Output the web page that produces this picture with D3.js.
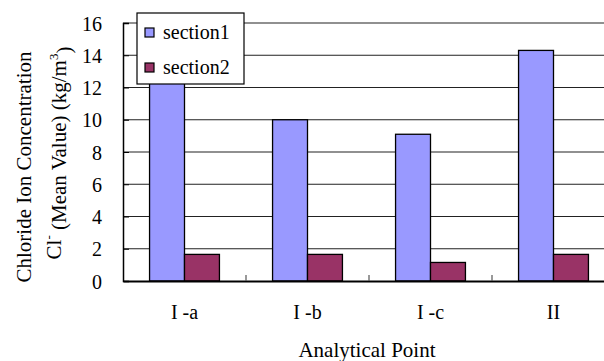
<!DOCTYPE html>
<html>
<head>
<meta charset="utf-8">
<script src="https://cdn.jsdelivr.net/npm/d3@7"></script>
<style>
body { margin: 0; background: #fff; }
</style>
</head>
<body>
<div id="container"></div>
<script>
var categories = ['I -a', 'I -b', 'I -c', 'II'];
var section1 = [12.8, 10.0, 9.1, 14.3];
var section2 = [1.65, 1.65, 1.15, 1.65];
var seriesNames = ['section1', 'section2'];
var yTicks = [0, 2, 4, 6, 8, 10, 12, 14, 16];

var width = 604,
    height = 361,
    margin = { left: 123, top: 23, right: -11, bottom: 80 },
    gWidth = width - margin.left - margin.right,
    gHeight = height - margin.top - margin.bottom;

var colors = ['#9999ff', '#993366'];
var serif = '"Liberation Serif", serif';

var svg = d3.select('#container')
    .append('svg')
    .attr('width', width)
    .attr('height', height)
    .style('font-family', serif);
var g = svg.append('g')
    .attr('transform', 'translate(' + margin.left + ',' + margin.top + ')');

var scaleX = d3.scaleBand()
    .domain(categories)
    .range([0, gWidth]);
var scaleSeries = d3.scaleBand()
    .domain(seriesNames)
    .range([0, scaleX.bandwidth()])
    .paddingOuter(0.76);
var scaleY = d3.scaleLinear()
    .domain([0, 16])
    .range([gHeight, 0]);

// gridlines
g.selectAll('.grid')
    .data(yTicks.slice(1))
    .enter().append('line')
    .attr('x1', 0).attr('x2', gWidth)
    .attr('y1', function(d) { return scaleY(d); })
    .attr('y2', function(d) { return scaleY(d); })
    .attr('stroke', '#222')
    .attr('stroke-width', 1.2);

// bars
var data = categories.map(function(c, i) {
    return { cat: c, vals: [section1[i], section2[i]] };
});
var groups = g.selectAll('.grp')
    .data(data)
    .enter().append('g')
    .attr('transform', function(d) { return 'translate(' + scaleX(d.cat) + ',0)'; });
groups.selectAll('rect')
    .data(function(d) { return d.vals.map(function(v, j) { return { v: v, s: seriesNames[j], j: j }; }); })
    .enter().append('rect')
    .attr('x', function(d) { return scaleSeries(d.s); })
    .attr('width', scaleSeries.bandwidth())
    .attr('y', function(d) { return scaleY(d.v); })
    .attr('height', function(d) { return gHeight - scaleY(d.v); })
    .attr('fill', function(d) { return colors[d.j]; })
    .attr('stroke', '#000')
    .attr('stroke-width', 1.3);

// y axis, ticks pointing inward
var yAxis = d3.axisLeft(scaleY).tickValues(yTicks).tickSize(-6).tickPadding(21);
var yg = g.append('g').call(yAxis)
    .attr('font-family', serif).attr('font-size', 20);
yg.select('.domain').attr('stroke', '#000').attr('stroke-width', 1.5);
yg.selectAll('.tick line').attr('stroke', '#000');
yg.selectAll('.tick text').attr('dy', '0.35em').attr('fill', '#000');

// x axis
var xAxis = d3.axisBottom(scaleX).tickSize(0).tickPadding(24);
var xg = g.append('g')
    .attr('transform', 'translate(0,' + gHeight + ')')
    .call(xAxis)
    .attr('font-family', serif).attr('font-size', 20);
xg.select('.domain').attr('stroke', '#000').attr('stroke-width', 2);
xg.selectAll('.tick text').attr('fill', '#000');
// category separator ticks (upward)
g.selectAll('.sep')
    .data(categories.slice(1))
    .enter().append('line')
    .attr('x1', function(d) { return scaleX(d); })
    .attr('x2', function(d) { return scaleX(d); })
    .attr('y1', gHeight).attr('y2', gHeight - 6)
    .attr('stroke', '#555')
    .attr('stroke-width', 1.2);

// axis titles
svg.append('text')
    .attr('x', 367).attr('y', 357)
    .attr('text-anchor', 'middle')
    .style('font-size', '21px')
    .text('Analytical Point');

svg.append('text')
    .attr('transform', 'translate(31,167) rotate(-90)')
    .attr('text-anchor', 'middle')
    .style('font-size', '21px')
    .text('Chloride Ion Concentration');

var t2 = svg.append('text')
    .attr('transform', 'translate(61,153) rotate(-90)')
    .attr('text-anchor', 'middle')
    .style('font-size', '21px');
t2.append('tspan').text('Cl');
t2.append('tspan').attr('dy', '-0.6em').style('font-size', '13px').text('-');
t2.append('tspan').attr('dy', '0.6em').text(' (Mean Value) (kg/m');
t2.append('tspan').attr('dy', '-0.6em').style('font-size', '13px').text('3');
t2.append('tspan').attr('dy', '0.6em').text(')');

// legend
var lg = svg.append('g').attr('transform', 'translate(137,13)');
lg.append('rect')
    .attr('width', 107).attr('height', 71)
    .attr('fill', '#fff').attr('stroke', '#000').attr('stroke-width', 1.2);
seriesNames.forEach(function(s, i) {
    lg.append('rect')
        .attr('x', 8).attr('y', 15 + i * 35)
        .attr('width', 9).attr('height', 9)
        .attr('fill', colors[i]).attr('stroke', '#000').attr('stroke-width', 1.2);
    lg.append('text')
        .attr('x', 26).attr('y', 26 + i * 35)
        .style('font-size', '20px')
        .text(s);
});
</script>
</body>
</html>
